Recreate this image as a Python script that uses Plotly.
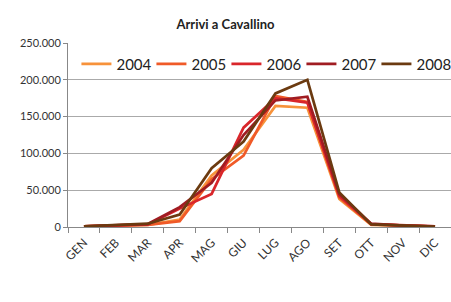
import plotly.graph_objects as go

months = ["GEN", "FEB", "MAR", "APR", "MAG", "GIU", "LUG", "AGO", "SET", "OTT", "NOV", "DIC"]
years = ["2004", "2005", "2006", "2007", "2008"]
v2004 = [800, 2000, 3000, 10000, 70000, 105000, 164500, 162000, 38000, 3000, 1500, 500]
v2005 = [800, 2000, 3000, 8000, 65000, 97000, 178000, 170000, 40000, 3500, 1500, 500]
v2006 = [1000, 2500, 3500, 25000, 45000, 135000, 175000, 169000, 42000, 4000, 2000, 800]
v2007 = [1000, 2500, 4000, 27000, 60000, 125000, 172000, 177000, 45000, 4500, 2000, 800]
v2008 = [1000, 2500, 4500, 17000, 80000, 116000, 181500, 200000, 47000, 3500, 1500, 500]
series = [v2004, v2005, v2006, v2007, v2008]
colors = ["#F7923A", "#F05A28", "#D9262B", "#A01C22", "#6B3A10"]
yticks = [0, 50000, 100000, 150000, 200000, 250000]

fig = go.Figure()
for name, vals, c in zip(years, series, colors):
    fig.add_trace(go.Scatter(x=months, y=vals, name=name, mode="lines",
                             line=dict(color=c, width=2.7)))

fig.update_layout(
    width=451, height=302,
    margin=dict(l=68, r=0, t=43, b=75, autoexpand=False),
    paper_bgcolor="white", plot_bgcolor="white",
    separators=",.",
    font=dict(family="Lato, DejaVu Sans, sans-serif", color="#333333"),
    title=dict(text="<b>Arrivi a Cavallino</b>", x=0.5, xanchor="center", y=0.92, yanchor="middle",
               font=dict(size=13, color="#222222")),
    legend=dict(orientation="h", x=0.022, y=0.975, xanchor="left", yanchor="top",
                font=dict(size=15, color="#222222"), bgcolor="rgba(0,0,0,0)",
                itemwidth=30, entrywidth=30, entrywidthmode="pixels", tracegroupgap=0),
    showlegend=True,
)
fig.update_xaxes(showgrid=False, showline=True, linecolor="#888888", linewidth=1,
                 ticks="outside", tickson="boundaries", ticklen=5, tickcolor="#888888",
                 tickangle=-45, tickfont=dict(size=12, color="#333333"), ticklabelstandoff=3,
                 range=[-0.5, 11.5], automargin=False)
fig.update_yaxes(range=[0, 250000], tickvals=yticks, tickformat=",d",
                 showgrid=True, gridcolor="#AAAAAA", gridwidth=1,
                 showline=True, linecolor="#888888", linewidth=1,
                 ticks="outside", ticklen=4, tickcolor="#888888",
                 tickfont=dict(size=11, color="#333333"), zeroline=False, automargin=False)
fig.write_html("out.html", config={"displayModeBar": False},
               post_script="document.body.style.margin='0';")
